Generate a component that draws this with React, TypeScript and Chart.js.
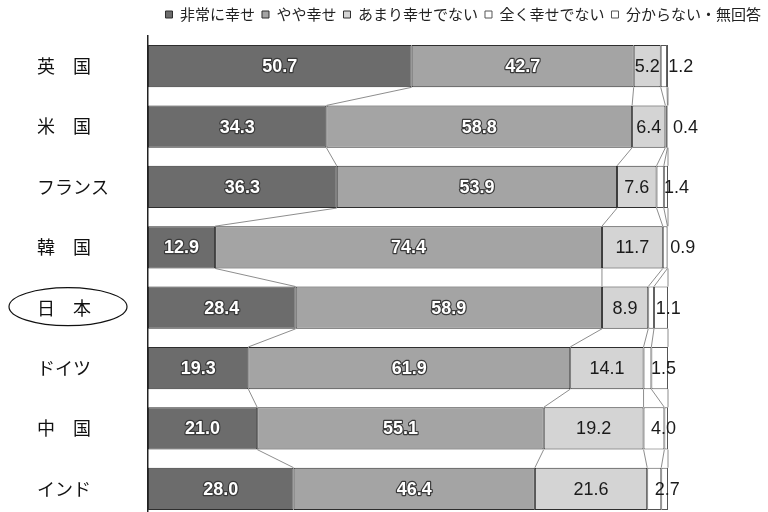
import React, { useEffect, useRef } from "react";
import { Chart, registerables } from "chart.js";

Chart.register(...registerables);

// Countries (category axis) and the five answer groups, in percent
const countries = ["英　国", "米　国", "フランス", "韓　国", "日　本", "ドイツ", "中　国", "インド"];
const veryHappy = [50.7, 34.3, 36.3, 12.9, 28.4, 19.3, 21.0, 28.0];
const fairlyHappy = [42.7, 58.8, 53.9, 74.4, 58.9, 61.9, 55.1, 46.4];
const notVeryHappy = [5.2, 6.4, 7.6, 11.7, 8.9, 14.1, 19.2, 21.6];
const notAtAllHappy = [1.2, 0.4, 1.4, 0.9, 1.1, 1.5, 4.0, 2.7];
const noAnswer = [0.2, 0.1, 0.8, 0.1, 2.7, 3.2, 0.7, 1.3];
const seriesNames = ["非常に幸せ", "やや幸せ", "あまり幸せでない", "全く幸せでない", "分からない・無回答"];
const highlightedCountry = "日　本";

const JP_FONT = "'Noto Sans CJK JP', 'Noto Sans', sans-serif";
const NUM_FONT = "'Liberation Sans', Arial, 'Noto Sans CJK JP', sans-serif";

const fills = ["#6c6c6c", "#a4a4a4", "#d4d4d4", "#ffffff", "#ffffff"];

// Value labels, series lines between bars, and the ring around the highlighted country
const overlayPlugin = {
  id: "overlay",
  afterDatasetsDraw(chart: any) {
    const ctx: CanvasRenderingContext2D = chart.ctx;
    ctx.save();

    // series lines joining matching segment ends of neighbouring bars
    ctx.strokeStyle = "#707070";
    ctx.lineWidth = 0.8;
    chart.data.datasets.forEach((_ds: any, d: number) => {
      const meta = chart.getDatasetMeta(d);
      for (let i = 0; i < meta.data.length - 1; i++) {
        const a = meta.data[i].getProps(["x", "y", "height"], true);
        const b = meta.data[i + 1].getProps(["x", "y", "height"], true);
        ctx.beginPath();
        ctx.moveTo(a.x, a.y + a.height / 2);
        ctx.lineTo(b.x, b.y - b.height / 2);
        ctx.stroke();
      }
    });

    // value labels
    ctx.textBaseline = "middle";
    ctx.textAlign = "center";
    chart.data.datasets.forEach((ds: any, d: number) => {
      if (d > 3) return;
      const meta = chart.getDatasetMeta(d);
      meta.data.forEach((el: any, i: number) => {
        const p = el.getProps(["x", "y", "base"], true);
        const text = Number(ds.data[i]).toFixed(1);
        if (d <= 1) {
          const cx = (p.x + p.base) / 2;
          ctx.font = `bold 18px ${NUM_FONT}`;
          ctx.lineJoin = "round";
          ctx.lineWidth = 2.4;
          ctx.strokeStyle = "#3a3a3a";
          ctx.strokeText(text, cx, p.y + 1);
          ctx.fillStyle = "#ffffff";
          ctx.fillText(text, cx, p.y + 1);
        } else if (d === 2) {
          const cx = (p.x + p.base) / 2;
          ctx.font = `18px ${NUM_FONT}`;
          ctx.fillStyle = "#1a1a1a";
          ctx.fillText(text, cx, p.y + 1);
        } else {
          ctx.font = `18px ${NUM_FONT}`;
          ctx.fillStyle = "#1a1a1a";
          ctx.fillText(text, p.base + 20, p.y + 1);
        }
      });
    });
    ctx.restore();
  },
  afterDraw(chart: any) {
    const ctx: CanvasRenderingContext2D = chart.ctx;
    const yScale = chart.scales.y;
    const idx = countries.indexOf(highlightedCountry);
    if (idx < 0) return;
    const cy = yScale.getPixelForValue(idx);
    ctx.save();
    ctx.font = `18px ${JP_FONT}`;
    const w = ctx.measureText(highlightedCountry).width;
    const cx = yScale.left + w / 2 + 4;
    ctx.beginPath();
    ctx.ellipse(cx, cy - 1, w / 2 + 32, 19, 0, 0, Math.PI * 2);
    ctx.strokeStyle = "#111";
    ctx.lineWidth = 1.2;
    ctx.stroke();
    ctx.restore();
  },
};

export default function App() {
  const ref = useRef<HTMLCanvasElement>(null);

  useEffect(() => {
    const canvas = ref.current;
    if (!canvas) return;
    const series = [veryHappy, fairlyHappy, notVeryHappy, notAtAllHappy, noAnswer];
    const chart = new Chart(canvas, {
      type: "bar",
      data: {
        labels: countries,
        datasets: series.map((values, d) => ({
          label: seriesNames[d],
          data: values,
          backgroundColor: fills[d],
          borderColor: d < 3 ? "#2e2e2e" : "#555555",
          borderWidth: 1,
          borderSkipped: false,
          barPercentage: 0.7,
          categoryPercentage: 1,
        })),
      },
      options: {
        indexAxis: "y",
        responsive: false,
        animation: false,
        layout: { padding: { left: 37, right: 0, top: 0, bottom: 0 } },
        scales: {
          x: {
            stacked: true,
            min: 0,
            max: 100,
            position: "top",
            grid: { display: false },
            border: { display: false },
            ticks: { display: false },
            afterFit: (s: any) => {
              s.height = 4;
            },
          },
          y: {
            stacked: true,
            position: "left",
            grid: { display: false },
            border: { display: true, color: "#222", width: 1.5 },
            ticks: {
              crossAlign: "far",
              color: "#111",
              font: { family: JP_FONT, size: 18 },
            },
            afterFit: (s: any) => {
              s.width = 111;
              s.paddingTop = 0;
              s.paddingBottom = 0;
            },
          },
          spacer: {
            type: "linear",
            axis: "y",
            position: "right",
            display: true,
            grid: { display: false },
            border: { display: false },
            ticks: { display: false },
            afterFit: (s: any) => {
              s.width = 100;
              s.paddingTop = 0;
              s.paddingBottom = 0;
            },
          },
        },
        plugins: {
          legend: {
            position: "top",
            align: "end",
            labels: {
              boxWidth: 7,
              boxHeight: 7,
              padding: 7,
              color: "#222",
              font: { family: JP_FONT, size: 15 },
            },
          },
          tooltip: { enabled: false },
        },
      },
      plugins: [overlayPlugin],
    } as any);
    return () => chart.destroy();
  }, []);

  return (
    <div
      style={{
        position: "fixed",
        left: 0,
        top: 0,
        width: 768,
        height: 512,
        overflow: "hidden",
        background: "#fff",
      }}
    >
      <canvas ref={ref} width={768} height={519} style={{ display: "block" }} />
    </div>
  );
}
